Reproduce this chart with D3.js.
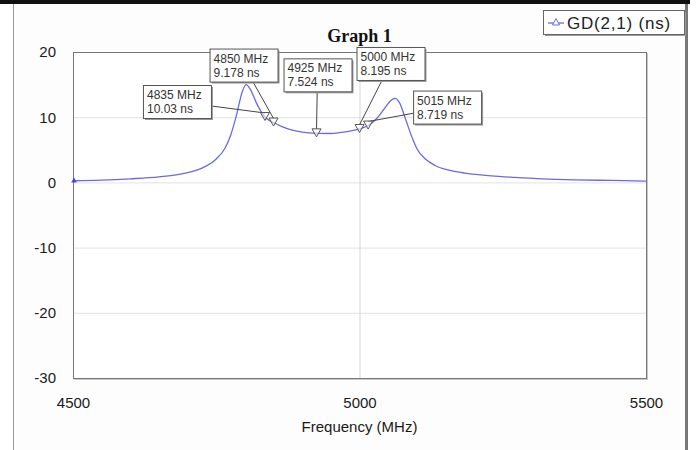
<!DOCTYPE html>
<html>
<head>
<meta charset="utf-8">
<script src="https://cdn.jsdelivr.net/npm/d3@7"></script>
<style>
  body { margin: 0; background: #fff; }
  text { font-family: Arial, "Liberation Sans", sans-serif; }
</style>
</head>
<body>
<div id="viz"></div>
<script>
// frequency sweep (MHz) and group delay GD(2,1) (ns)
const freqs = [4500, 4550, 4600, 4650, 4700, 4725, 4750, 4765, 4775, 4785, 4795, 4802,
  4810, 4820, 4835, 4850, 4875, 4900, 4925, 4950, 4975, 5000, 5015, 5030, 5045, 5055,
  5062, 5070, 5080, 5093, 5100, 5115, 5132, 5160, 5184, 5230, 5271, 5320, 5376, 5440, 5500];
const gdValues = [0.25, 0.35, 0.55, 0.85, 1.5, 2.2, 3.6, 5.2, 7.2, 10.2, 13.8, 15.0,
  14.2, 12.2, 10.03, 9.178, 8.2, 7.7, 7.524, 7.5, 7.75, 8.195, 8.719, 9.8, 11.5, 12.6,
  12.9, 12.2, 9.8, 6.6, 5.2, 3.6, 2.6, 1.8, 1.43, 1.0, 0.77, 0.55, 0.4, 0.3, 0.2];

const markerFreqs = [4835, 4850, 4925, 5000, 5015];
const markerValues = [10.03, 9.178, 7.524, 8.195, 8.719];

const xTicks = [4500, 5000, 5500];
const yTicks = [20, 10, 0, -10, -20, -30];

(() => {
  let width = 696,
    height = 450,
    plot = { left: 73, top: 52, right: 646, bottom: 378 };

  // where each marker's label box sits, relative to its marker (px)
  let labelOffsets = [[-122, -32], [-64, -74], [-33, -75], [-3, -82], [45, -35]];
  let boxW = 68, boxH = 33;

  let svg = d3.select('#viz')
    .append('svg')
    .attr('width', width)
    .attr('height', height);

  // window frame
  svg.append('rect')
    .attr('x', 13).attr('y', 0)
    .attr('width', 674).attr('height', height)
    .style('fill', '#fdfdfd');
  svg.append('rect')
    .attr('x', 0).attr('y', 0)
    .attr('width', 690).attr('height', 4)
    .style('fill', '#111');
  svg.append('line')
    .attr('x1', 13.5).attr('x2', 13.5)
    .attr('y1', 4).attr('y2', height)
    .style('stroke', '#999');
  svg.append('rect')
    .attr('x', 685).attr('y', 4)
    .attr('width', 3).attr('height', height)
    .style('fill', '#777');

  let x = d3.scaleLinear()
    .domain([4500, 5500])
    .range([plot.left, plot.right]);

  let y = d3.scaleLinear()
    .domain([-30, 20])
    .range([plot.bottom, plot.top]);

  // plot background + shadow
  svg.append('rect')
    .attr('x', plot.left + 1).attr('y', plot.top + 1)
    .attr('width', plot.right - plot.left + 1).attr('height', plot.bottom - plot.top + 1)
    .style('fill', '#c8c8c8');
  svg.append('rect')
    .attr('x', plot.left).attr('y', plot.top)
    .attr('width', plot.right - plot.left).attr('height', plot.bottom - plot.top)
    .style('fill', '#fff');

  // gridlines
  svg.append('g')
    .attr('class', 'grid')
    .attr('transform', `translate(${plot.left},0)`)
    .call(d3.axisLeft(y).tickValues(yTicks).tickSize(-(plot.right - plot.left)).tickFormat(''))
    .call(g => g.select('.domain').remove())
    .call(g => g.selectAll('line').style('stroke', '#e2e2e2'));

  svg.append('g')
    .attr('class', 'grid')
    .attr('transform', `translate(0,${plot.bottom})`)
    .call(d3.axisBottom(x).tickValues(xTicks).tickSize(-(plot.bottom - plot.top)).tickFormat(''))
    .call(g => g.select('.domain').remove())
    .call(g => g.selectAll('line').style('stroke', '#d6d6d6'));

  svg.append('rect')
    .attr('x', plot.left + 0.5).attr('y', plot.top + 0.5)
    .attr('width', plot.right - plot.left).attr('height', plot.bottom - plot.top)
    .style('fill', 'none')
    .style('stroke', '#777');

  // axis labels (plain hyphen minus, no thousands comma)
  svg.append('g')
    .attr('transform', `translate(${plot.left},0)`)
    .call(d3.axisLeft(y).tickValues(yTicks).tickSize(0).tickPadding(17).tickFormat(d => String(d)))
    .call(g => g.select('.domain').remove())
    .selectAll('text')
    .style('font-size', '15px')
    .style('font-family', 'Arial, "Liberation Sans", sans-serif')
    .style('fill', '#1a1a1a');

  svg.append('g')
    .attr('transform', `translate(0,${plot.bottom})`)
    .call(d3.axisBottom(x).tickValues(xTicks).tickSize(0).tickPadding(19).tickFormat(d => String(d)))
    .call(g => g.select('.domain').remove())
    .selectAll('text')
    .style('font-size', '15px')
    .style('font-family', 'Arial, "Liberation Sans", sans-serif')
    .style('fill', '#1a1a1a');

  svg.append('text')
    .attr('x', x(5000))
    .attr('y', 432)
    .attr('text-anchor', 'middle')
    .style('font-size', '15px')
    .style('fill', '#1a1a1a')
    .text('Frequency (MHz)');

  svg.append('text')
    .attr('x', x(5000))
    .attr('y', 42)
    .attr('text-anchor', 'middle')
    .style('font-family', '"Liberation Serif", "Times New Roman", serif')
    .style('font-weight', 'bold')
    .style('font-size', '18px')
    .style('fill', '#111')
    .text('Graph 1');

  // the trace
  let data = freqs.map((f, i) => ({ f: f, v: gdValues[i] }));

  svg.append('path')
    .datum(data)
    .attr('d', d3.line()
      .x(d => x(d.f))
      .y(d => y(d.v))
      .curve(d3.curveMonotoneX))
    .style('fill', 'none')
    .style('stroke', '#6b6bdf')
    .style('stroke-width', 1.3);

  svg.append('path')
    .attr('d', d3.symbol(d3.symbolTriangle, 14)())
    .attr('transform', `translate(${x(freqs[0]) + 1},${y(gdValues[0])})`)
    .style('fill', '#4a4ad8');

  // markers with their readout boxes
  let markers = markerFreqs.map((f, i) => ({
    f: f,
    v: markerValues[i],
    px: x(f),
    py: y(markerValues[i]),
    bx: x(f) + labelOffsets[i][0],
    by: y(markerValues[i]) + labelOffsets[i][1]
  }));

  let mk = svg.selectAll('.marker')
    .data(markers)
    .join('g')
    .attr('class', 'marker');

  mk.append('line')
    .attr('x1', d => d.bx + boxW / 2)
    .attr('y1', d => d.by + boxH / 2)
    .attr('x2', d => d.px)
    .attr('y2', d => d.py - 4)
    .style('stroke', '#444')
    .style('stroke-width', 1);

  mk.append('path')
    .attr('d', 'M-4.5,-4.5 L4.5,-4.5 L0,3.5 Z')
    .attr('transform', d => `translate(${d.px},${d.py})`)
    .style('fill', '#fff')
    .style('fill-opacity', 0.6)
    .style('stroke', '#555');

  mk.append('rect')
    .attr('x', d => d.bx + 2)
    .attr('y', d => d.by + 2)
    .attr('width', boxW)
    .attr('height', boxH)
    .style('fill', '#9a9a9a');

  mk.append('rect')
    .attr('x', d => d.bx + 0.5)
    .attr('y', d => d.by + 0.5)
    .attr('width', boxW)
    .attr('height', boxH)
    .style('fill', '#fff')
    .style('stroke', '#555');

  mk.append('text')
    .attr('x', d => d.bx + 4)
    .attr('y', d => d.by + 14)
    .style('font-size', '12px')
    .style('fill', '#333')
    .text(d => `${d.f} MHz`);

  mk.append('text')
    .attr('x', d => d.bx + 4)
    .attr('y', d => d.by + 28)
    .style('font-size', '12px')
    .style('fill', '#333')
    .text(d => `${d.v} ns`);

  // legend
  let legend = svg.append('g')
    .attr('transform', 'translate(543,10)');

  legend.append('rect')
    .attr('x', 2).attr('y', 2)
    .attr('width', 141).attr('height', 24)
    .style('fill', '#9a9a9a');
  legend.append('rect')
    .attr('x', 0.5).attr('y', 0.5)
    .attr('width', 141).attr('height', 24)
    .style('fill', '#fff')
    .style('stroke', '#666');
  legend.append('line')
    .attr('x1', 5).attr('x2', 21)
    .attr('y1', 13).attr('y2', 13)
    .style('stroke', '#6b6bdf')
    .style('stroke-width', 1.3);
  legend.append('path')
    .attr('d', 'M-3.5,3 L3.5,3 L0,-3.5 Z')
    .attr('transform', 'translate(13,12)')
    .style('fill', '#fff')
    .style('stroke', '#6b6bdf');
  legend.append('text')
    .attr('x', 24)
    .attr('y', 18.5)
    .style('font-size', '17px')
    .style('letter-spacing', '0.8px')
    .style('fill', '#222')
    .text('GD(2,1) (ns)');
})();
</script>
</body>
</html>
